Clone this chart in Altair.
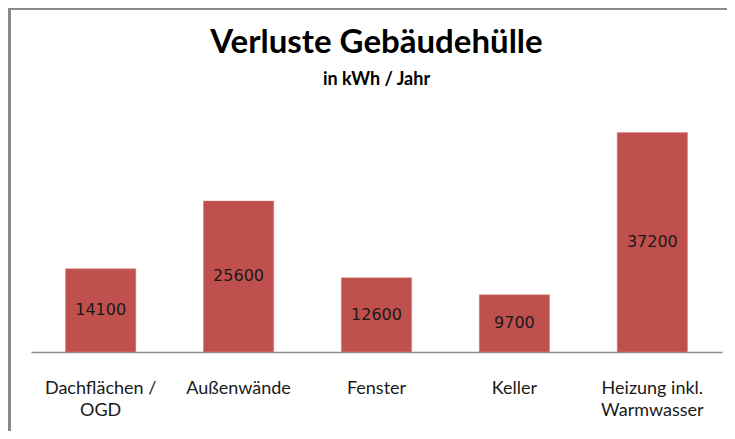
import altair as alt
import pandas as pd

categories = ["Dachflächen /\nOGD", "Außenwände", "Fenster", "Keller", "Heizung inkl.\nWarmwasser"]
values = [14100, 25600, 12600, 9700, 37200]

df = pd.DataFrame({"kategorie": categories, "wert": values})
frame_df = pd.DataFrame({"rahmen": [0]})

x_enc = alt.X(
    "kategorie:N",
    sort=categories,
    title=None,
    scale=alt.Scale(paddingInner=0.49, paddingOuter=0.25),
    axis=alt.Axis(
        labelAngle=0,
        labelExpr="split(datum.label, '\\n')",
        labelFont="Lato",
        labelFontSize=18,
        labelColor="#1a1a1a",
        labelLineHeight=22,
        labelBaseline="top",
        labelPadding=27,
        ticks=False,
        domainColor="#8c8c8c",
        domainWidth=1.5,
        grid=False,
    ),
)

bars = alt.Chart(df).mark_bar(color="#C0504D", stroke="#d98a88", strokeWidth=0.5).encode(
    x=x_enc,
    y=alt.Y("wert:Q", scale=alt.Scale(domain=[0, 40000]), axis=None),
)

labels = alt.Chart(df).transform_calculate(mitte="datum.wert / 2").mark_text(
    font="DejaVu Sans", fontSize=16, color="#1a1a1a", baseline="middle", align="center"
).encode(
    x=alt.X("kategorie:N", sort=categories),
    y=alt.Y("mitte:Q", scale=alt.Scale(domain=[0, 40000])),
    text=alt.Text("wert:Q", format="d"),
)

left_border = alt.Chart(frame_df).mark_rule(color="#8a8a8a", strokeWidth=3).encode(
    x=alt.value(-21.5), y=alt.value(-108), y2=alt.value(315)
)
top_border = alt.Chart(frame_df).mark_rule(color="#8a8a8a", strokeWidth=2).encode(
    x=alt.value(-23), x2=alt.value(696), y=alt.value(-107)
)

chart = alt.layer(bars, labels, left_border, top_border).properties(
    width=691,
    height=236,
    background="white",
    autosize=alt.AutoSizeParams(type="none"),
    padding={"left": 23, "top": 108, "right": 5, "bottom": 79},
    title=alt.Title(
        "Verluste Gebäudehülle",
        subtitle="in kWh / Jahr",
        font="Lato",
        fontSize=33,
        fontWeight="bold",
        color="#000000",
        subtitleFont="Lato",
        subtitleFontSize=18,
        subtitleFontWeight="bold",
        subtitleColor="#000000",
        subtitlePadding=11,
        anchor="middle",
        frame="group",
        offset=0,
        dy=82,
    ),
).configure_view(strokeWidth=0, stroke="transparent")

chart.save("out.html", embed_options={"renderer": "svg", "actions": False})
